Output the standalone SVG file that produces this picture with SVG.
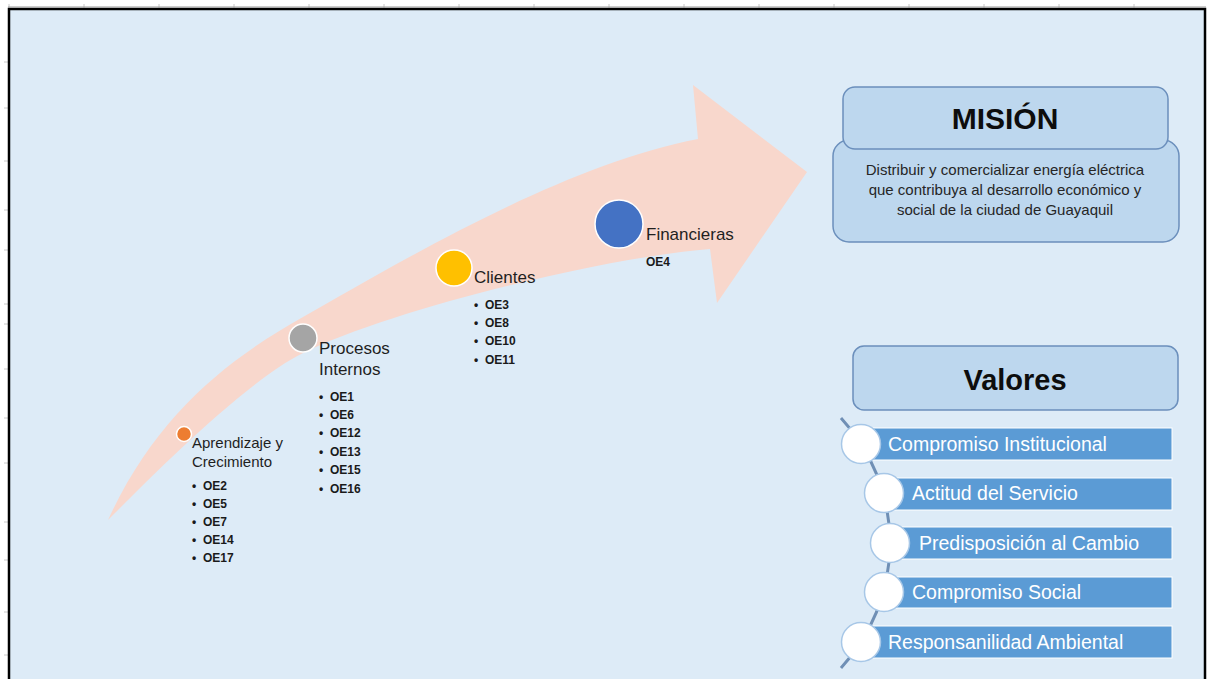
<svg xmlns="http://www.w3.org/2000/svg" width="1208" height="679" viewBox="0 0 1208 679">
<style>
text{font-family:"Liberation Sans",Arial,sans-serif;}
.tick{stroke:#c8c8c8;stroke-width:1;}
.stage{font-size:17px;fill:#1f1f1f;}
.oe{font-size:12px;font-weight:bold;fill:#1a1a1a;}
.box{fill:#BDD7EE;stroke:#6B8FBC;stroke-width:1.5;}
.title{font-size:30px;font-weight:bold;fill:#0d0d0d;text-anchor:middle;}
.mis{font-size:15px;fill:#262626;text-anchor:middle;}
.bar{fill:#5B9BD5;stroke:#ffffff;stroke-width:1;}
.dot{fill:#ffffff;stroke:#A7C7E7;stroke-width:1.5;}
.val{font-size:19.5px;fill:#ffffff;}
.stageDot{stroke:#ffffff;stroke-width:1.5;}
</style>
<rect x="0" y="0" width="1208" height="679" fill="#ffffff"/>
<g id="ticks">
<path class="tick" d="M9,4V8M84,4V8M159,4V8M234,4V8M309,4V8M384,4V8M459,4V8M534,4V8M609,4V8M684,4V8M759,4V8M834,4V8M909,4V8M984,4V8M1059,4V8M1134,4V8"/>
<path class="tick" d="M4,62H8M4,108H8M4,161H8M4,210H8M4,250H8M4,304H8M4,324H8M4,369H8M4,418H8M4,463H8M4,522H8M4,560H8M4,612H8M4,655H8"/>
</g>
<rect x="9" y="9" width="1196" height="680" fill="#DDEBF7" stroke="#000000" stroke-width="2.5"/>
<line x1="8" y1="7" x2="1206" y2="7" stroke="#9a9a9a" stroke-width="1"/>
<g id="arrow">
<path d="M108,520 C155,418 223,362 303,317 C390,268 560,165 698,139 L693,85 L807,172 L717,303 L710,249 C600,258 390,310 303,353 C243,383 150,478 108,520 Z" fill="#F8D7CC"/>
</g>
<g id="aprendizaje">
<circle class="stageDot" cx="184" cy="434" r="7.5" fill="#ED7D31"/>
<text class="stage" style="font-size:15px" x="192" y="448">Aprendizaje y</text>
<text class="stage" style="font-size:15px" x="192" y="467">Crecimiento</text>
<text class="oe" y="490"><tspan x="192">•</tspan><tspan x="203">OE2</tspan></text>
<text class="oe" y="508"><tspan x="192">•</tspan><tspan x="203">OE5</tspan></text>
<text class="oe" y="526"><tspan x="192">•</tspan><tspan x="203">OE7</tspan></text>
<text class="oe" y="544"><tspan x="192">•</tspan><tspan x="203">OE14</tspan></text>
<text class="oe" y="562"><tspan x="192">•</tspan><tspan x="203">OE17</tspan></text>
</g>
<g id="procesos">
<circle class="stageDot" cx="303" cy="338" r="14" fill="#A5A5A5"/>
<text class="stage" x="319" y="354">Procesos</text>
<text class="stage" x="319" y="375">Internos</text>
<text class="oe" y="401"><tspan x="319">•</tspan><tspan x="330">OE1</tspan></text>
<text class="oe" y="419"><tspan x="319">•</tspan><tspan x="330">OE6</tspan></text>
<text class="oe" y="437"><tspan x="319">•</tspan><tspan x="330">OE12</tspan></text>
<text class="oe" y="456"><tspan x="319">•</tspan><tspan x="330">OE13</tspan></text>
<text class="oe" y="474"><tspan x="319">•</tspan><tspan x="330">OE15</tspan></text>
<text class="oe" y="493"><tspan x="319">•</tspan><tspan x="330">OE16</tspan></text>
</g>
<g id="clientes">
<circle class="stageDot" cx="454" cy="268" r="18" fill="#FFC000"/>
<text class="stage" x="474" y="283">Clientes</text>
<text class="oe" y="309"><tspan x="474">•</tspan><tspan x="485">OE3</tspan></text>
<text class="oe" y="327"><tspan x="474">•</tspan><tspan x="485">OE8</tspan></text>
<text class="oe" y="345"><tspan x="474">•</tspan><tspan x="485">OE10</tspan></text>
<text class="oe" y="364"><tspan x="474">•</tspan><tspan x="485">OE11</tspan></text>
</g>
<g id="financieras">
<circle class="stageDot" cx="619" cy="224" r="24" fill="#4472C4"/>
<text class="stage" x="646" y="240">Financieras</text>
<text class="oe" x="646" y="266">OE4</text>
</g>
<g id="mision">
<rect class="box" x="833" y="140" width="346" height="102" rx="16"/>
<rect class="box" x="843" y="87" width="325" height="62" rx="12"/>
<text class="title" x="1005" y="129">MISIÓN</text>
<text class="mis" x="1005" y="175">Distribuir y comercializar energía eléctrica</text>
<text class="mis" x="1005" y="195">que contribuya al desarrollo económico y</text>
<text class="mis" x="1005" y="215">social de la ciudad de Guayaquil</text>
</g>
<g id="valores-title">
<rect class="box" x="853" y="346" width="325" height="64" rx="11"/>
<text class="title" style="font-size:29px" x="1015" y="390">Valores</text>
</g>
<g id="connectors">
<path d="M841,418 A184,184 0 0 1 841,668" fill="none" stroke="#6F8FB5" stroke-width="3"/>
</g>
<g id="valor-1">
<rect class="bar" x="861" y="428" width="311" height="32"/>
<circle class="dot" cx="861" cy="444" r="19.5"/>
<text class="val" x="888" y="451">Compromiso Institucional</text>
</g>
<g id="valor-2">
<rect class="bar" x="884" y="478" width="288" height="32"/>
<circle class="dot" cx="884" cy="493" r="19.5"/>
<text class="val" x="912" y="500">Actitud del Servicio</text>
</g>
<g id="valor-3">
<rect class="bar" x="890" y="527" width="282" height="32"/>
<circle class="dot" cx="890" cy="543" r="19.5"/>
<text class="val" x="919" y="550">Predisposición al Cambio</text>
</g>
<g id="valor-4">
<rect class="bar" x="884" y="577" width="288" height="31"/>
<circle class="dot" cx="884" cy="592" r="19.5"/>
<text class="val" x="912" y="599">Compromiso Social</text>
</g>
<g id="valor-5">
<rect class="bar" x="861" y="626" width="311" height="32"/>
<circle class="dot" cx="861" cy="642" r="19.5"/>
<text class="val" x="888" y="649">Responsanilidad Ambiental</text>
</g>
</svg>
